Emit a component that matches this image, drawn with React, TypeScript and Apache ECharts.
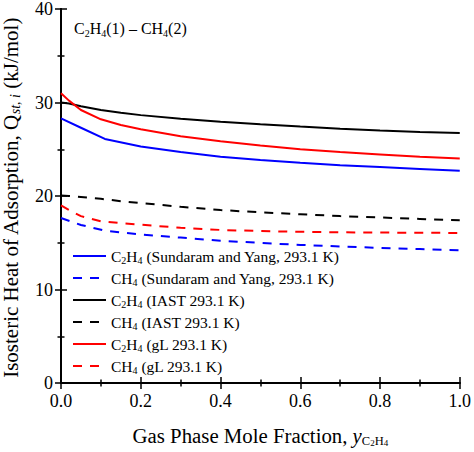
import React, { useEffect, useRef } from "react";
import * as echarts from "echarts";

// x positions (gas phase mole fraction of C2H4)
const xSmooth = [0, 0.02, 0.05, 0.1, 0.15, 0.2, 0.3, 0.4, 0.5, 0.6, 0.7, 0.8, 0.9, 1.0];
const xSY = [0, 0.05, 0.11, 0.2, 0.3, 0.4, 0.5, 0.6, 0.7, 0.8, 0.9, 1.0];

// Sundaram and Yang
const c2h4SY = [28.3, 27.3, 26.1, 25.3, 24.7, 24.2, 23.85, 23.55, 23.3, 23.1, 22.9, 22.7];
const ch4SY = [17.65, 16.9, 16.3, 15.88, 15.55, 15.22, 14.98, 14.77, 14.6, 14.45, 14.32, 14.2];
// IAST
const c2h4IAST = [30.0, 29.9, 29.6, 29.2, 28.9, 28.65, 28.25, 27.95, 27.68, 27.42, 27.2, 27.0, 26.85, 26.75];
const ch4IAST = [20.05, 20.0, 19.9, 19.7, 19.45, 19.25, 18.85, 18.5, 18.25, 18.05, 17.85, 17.7, 17.55, 17.4];
// gL
const c2h4GL = [31.0, 30.2, 29.2, 28.2, 27.6, 27.15, 26.4, 25.85, 25.4, 25.0, 24.7, 24.45, 24.2, 24.0];
const ch4GL = [19.0, 18.5, 17.85, 17.3, 17.1, 16.93, 16.6, 16.37, 16.25, 16.17, 16.12, 16.09, 16.07, 16.05];

const seriesNames = [
  "C2H4 (Sundaram and Yang, 293.1 K)",
  "CH4 (Sundaram and Yang, 293.1 K)",
  "C2H4 (IAST 293.1 K)",
  "CH4 (IAST 293.1 K)",
  "C2H4 (gL 293.1 K)",
  "CH4 (gL 293.1 K)",
];

const xTicks = [0, 0.2, 0.4, 0.6, 0.8, 1.0];
const yTicks = [0, 10, 20, 30, 40];

const FONT = "Liberation Serif";

const pair = (xs: number[], ys: number[]) => xs.map((x, i) => [x, ys[i]]);

const subRich = (size: number, lh: number) => ({
  n: { fontFamily: FONT, fontSize: size, fontWeight: "normal", color: "#000", lineHeight: lh },
  s: {
    fontFamily: FONT,
    fontSize: Math.round(size * 0.65),
    fontWeight: "normal",
    color: "#000",
    lineHeight: 8,
    verticalAlign: "bottom",
  },
});

const chemFmt = (name: string) =>
  name.replace(/^(C2H4|CH4)(.*)$/, (_m, f, rest) => {
    const formula = f === "C2H4" ? "{n|C}{s|2}{n|H}{s|4}" : "{n|CH}{s|4}";
    return formula + "{n|" + rest + "}";
  });

export default function App() {
  const ref = useRef<HTMLDivElement>(null);
  useEffect(() => {
    if (!ref.current) return;
    const chart = echarts.init(ref.current, null, { renderer: "svg" });
    const lineBase = (name: string, data: number[][], color: string, dashed: boolean) => ({
      name,
      type: "line",
      data,
      showSymbol: false,
      symbol: "none",
      smooth: false,
      xAxisIndex: 0,
      yAxisIndex: 0,
      lineStyle: { color, width: 2, type: dashed ? [9, 8] : "solid" },
      itemStyle: { color },
    });
    const axisCommon = {
      axisLine: { show: true, lineStyle: { color: "#000", width: 2 } },
      axisTick: { show: true, inside: true, length: 6, lineStyle: { color: "#000", width: 1.5 } },
      minorTick: { show: true, splitNumber: 2, length: 3.5, lineStyle: { color: "#000", width: 1.5 } },
      splitLine: { show: false },
      minorSplitLine: { show: false },
    };
    const option: any = {
      animation: false,
      backgroundColor: "#fff",
      grid: { left: 61, right: 11, top: 7, bottom: 68, containLabel: false },
      title: {
        text: "{n|C}{s|2}{n|H}{s|4}{n|(1) – CH}{s|4}{n|(2)}",
        left: 69,
        top: 13,
        textStyle: { fontWeight: "normal", fontFamily: FONT, rich: subRich(16, 20) },
      },
      graphic: [
        {
          type: "text",
          x: 11,
          y: 198,
          rotation: Math.PI / 2,
          style: {
            text: "{n|Isosteric Heat of Adsorption, Q}{s|st, i}{n| (kJ/mol)}",
            align: "center",
            verticalAlign: "middle",
            rich: {
              n: { fontFamily: FONT, fontSize: 21, fill: "#000", lineHeight: 22 },
              s: { fontFamily: FONT, fontSize: 14, fontStyle: "italic", fill: "#000", lineHeight: 9, verticalAlign: "bottom" },
            },
          },
        },
      ],
      legend: {
        orient: "vertical",
        left: 72,
        top: 248,
        padding: 0,
        itemWidth: 33,
        itemHeight: 14,
        itemGap: 5,
        data: seriesNames,
        itemStyle: { opacity: 0 },
        formatter: (name: string) => chemFmt(name),
        textStyle: { fontFamily: FONT, rich: subRich(15.5, 18) },
      },
      xAxis: [
        {
          type: "value",
          position: "bottom",
          min: 0,
          max: 1,
          interval: 0.2,
          ...axisCommon,
          axisLabel: {
            margin: 9,
            fontFamily: FONT,
            fontSize: 18,
            color: "#000",
            formatter: (v: number) => (xTicks.includes(+v.toFixed(1)) ? v.toFixed(1) : ""),
          },
          name: "{n|Gas Phase Mole Fraction, }{i|y}{s|C}{ss|2}{s|H}{ss|4}",
          nameLocation: "middle",
          nameGap: 40,
          nameTextStyle: {
            fontFamily: FONT,
            rich: {
              n: { fontFamily: FONT, fontSize: 20.8, color: "#000", lineHeight: 24 },
              i: { fontFamily: FONT, fontSize: 20.8, fontStyle: "italic", color: "#000", lineHeight: 24 },
              s: { fontFamily: FONT, fontSize: 12.5, color: "#000", lineHeight: 12, verticalAlign: "bottom" },
              ss: { fontFamily: FONT, fontSize: 9, color: "#000", lineHeight: 4, verticalAlign: "bottom" },
            },
          },
        },
        {
          type: "value",
          position: "top",
          min: 0,
          max: 1,
          interval: 0.2,
          ...axisCommon,
          axisLabel: { show: false },
        },
      ],
      yAxis: [
        {
          type: "value",
          position: "left",
          min: 0,
          max: 40,
          interval: 10,
          ...axisCommon,
          axisLabel: {
            margin: 8,
            fontFamily: FONT,
            fontSize: 18,
            color: "#000",
            formatter: (v: number) => (yTicks.includes(v) ? String(v) : ""),
          },
        },
        {
          type: "value",
          position: "right",
          min: 0,
          max: 40,
          interval: 10,
          ...axisCommon,
          axisLabel: { show: false },
        },
      ],
      series: [
        lineBase(seriesNames[0], pair(xSY, c2h4SY), "#0000ff", false),
        lineBase(seriesNames[1], pair(xSY, ch4SY), "#0000ff", true),
        lineBase(seriesNames[2], pair(xSmooth, c2h4IAST), "#000000", false),
        lineBase(seriesNames[3], pair(xSmooth, ch4IAST), "#000000", true),
        lineBase(seriesNames[4], pair(xSmooth, c2h4GL), "#ff0000", false),
        lineBase(seriesNames[5], pair(xSmooth, ch4GL), "#ff0000", true),
      ],
    };
    chart.setOption(option);
    return () => chart.dispose();
  }, []);
  return (
    <div
      ref={ref}
      style={{ position: "fixed", left: 0, top: 0, width: 474, height: 452, background: "#fff" }}
    />
  );
}
